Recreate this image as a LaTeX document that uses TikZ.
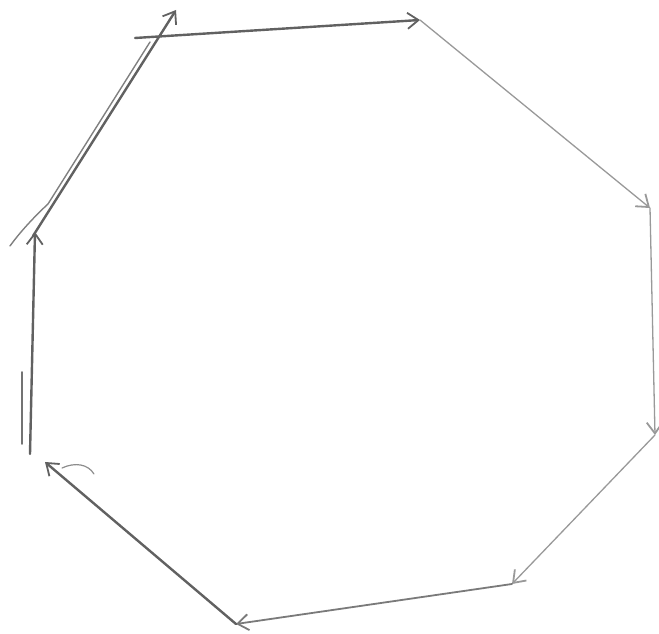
\documentclass[tikz,border=0pt]{standalone}
\usetikzlibrary{arrows.meta}
\begin{document}
\begin{tikzpicture}[x=1pt,y=1pt,
  edge/.style={line cap=round, line join=round, -{Straight Barb[length=11pt,width=16pt,line width=1.8pt]}},
  darkedge/.style={edge, draw=black!62, line width=2.4pt},
  midedge/.style={edge, draw=black!52, line width=1.8pt},
  lightedge/.style={edge, draw=black!40, line width=1.3pt},
  sketchmark/.style={draw=black!55, line width=1.6pt, line cap=round}]
\useasboundingbox (0,0) rectangle (659,634);
\coordinate (A) at (135,596);
\coordinate (B) at (420,614);
\coordinate (C) at (650,426);
\coordinate (D) at (655,199);
\coordinate (E) at (512,50);
\coordinate (F) at (236,10);
\coordinate (G) at (45,172);
\coordinate (Gs) at (30,180);
\coordinate (H) at (35,402);
\coordinate (Hs) at (33,398);
\coordinate (T) at (176,624);
\draw[darkedge] (A) -- (B);
\draw[lightedge] (B) -- (C);
\draw[lightedge] (C) -- (D);
\draw[lightedge] (D) -- (E);
\draw[midedge] (E) -- (F);
\draw[darkedge] (F) -- (G);
\draw[darkedge] (Gs) -- (H);
\draw[darkedge] (Hs) -- (T);
\draw[sketchmark, draw=black!50, line width=1.4pt] (10,388) .. controls (20,402) and (35,418) .. (48,430) -- (150,592);
\draw[sketchmark] (22,262) -- (22,190);
\draw[sketchmark, draw=black!45, line width=1.2pt] (62,166) .. controls (75,172) and (88,170) .. (94,160);
\end{tikzpicture}
\end{document}
